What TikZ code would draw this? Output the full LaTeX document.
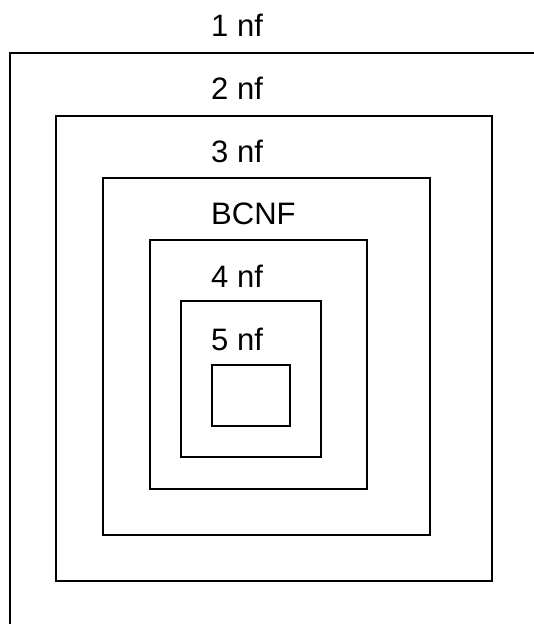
\documentclass[tikz,border=0pt]{standalone}
\usepackage{fontspec}
\setmainfont{Liberation Sans}
\begin{document}
\begin{tikzpicture}[x=1pt,y=-1pt,
  box/.style={draw=black,line width=2pt},
  lab/.style={anchor=base west,inner sep=0pt,font=\fontsize{31}{36}\selectfont}]
\useasboundingbox (0,0) rectangle (533,624);
\draw[box] (540,53) -- (10,53) -- (10,630);
\draw[box] (56,116) rectangle (492,581);
\draw[box] (103,178) rectangle (430,535);
\draw[box] (150,240) rectangle (367,489);
\draw[box] (181,301) rectangle (321,457);
\draw[box] (212,365) rectangle (290,426);
\node[lab] (l1) at (211,36) {1 nf};
\node[lab] (l2) at (211,99) {2 nf};
\node[lab] (l3) at (211,162) {3 nf};
\node[lab] (l4) at (211,224) {BCNF};
\node[lab] (l5) at (211,287) {4 nf};
\node[lab] (l6) at (211,350) {5 nf};
\end{tikzpicture}
\end{document}
